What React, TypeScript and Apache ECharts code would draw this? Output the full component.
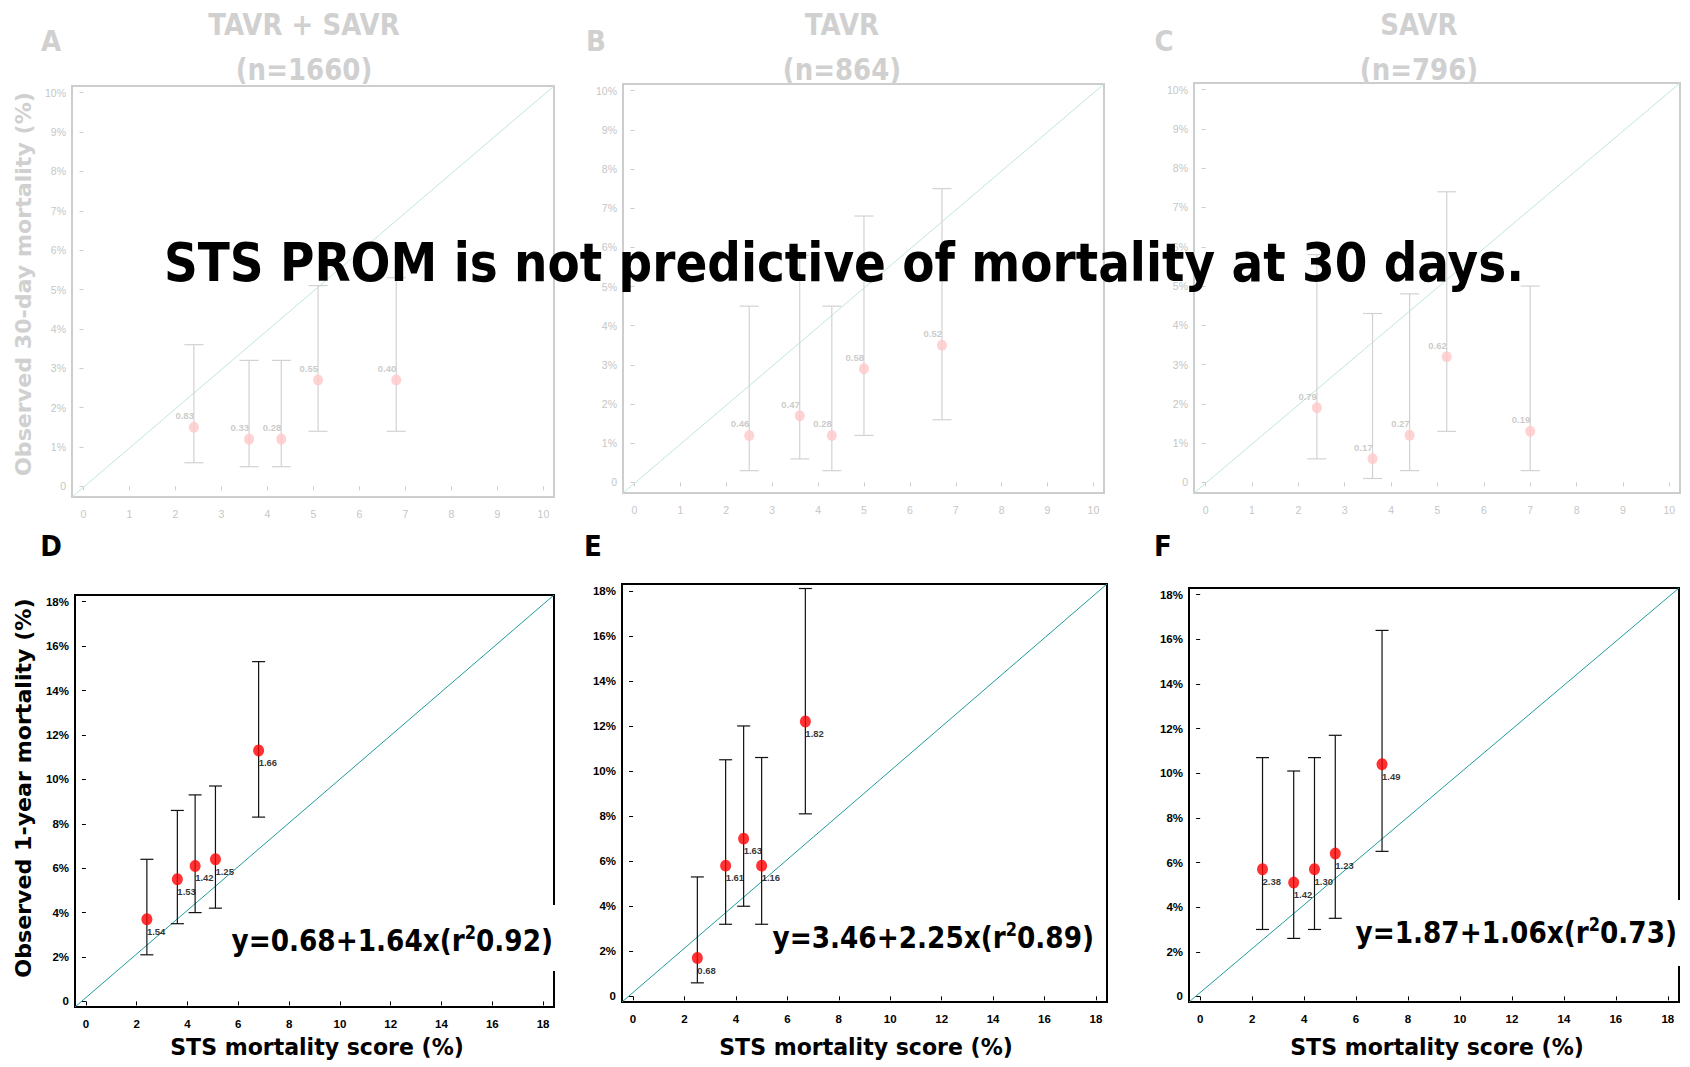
import React, { useEffect, useRef } from "react";
import * as echarts from "echarts";

// ---------- Data ----------
// A: TAVR + SAVR, 30-day
const stsA = [2.4, 3.6, 4.3, 5.1, 6.8];
const obsA = [1.5, 1.2, 1.2, 2.7, 2.7];
const loA = [0.6, 0.5, 0.5, 1.4, 1.4];
const hiA = [3.6, 3.2, 3.2, 5.1, 5.3];
const oeA = ["0.83", "0.33", "0.28", "0.55", "0.40"];
// B: TAVR, 30-day
const stsB = [2.5, 3.6, 4.3, 5.0, 6.7];
const obsB = [1.2, 1.7, 1.2, 2.9, 3.5];
const loB = [0.3, 0.6, 0.3, 1.2, 1.6];
const hiB = [4.5, 5.8, 4.5, 6.8, 7.5];
const oeB = ["0.46", "0.47", "0.28", "0.58", "0.52"];
// C: SAVR, 30-day
const stsC = [2.4, 3.6, 4.4, 5.2, 7.0];
const obsC = [1.9, 0.6, 1.2, 3.2, 1.3];
const loC = [0.6, 0.1, 0.3, 1.3, 0.3];
const hiC = [5.8, 4.3, 4.8, 7.4, 5.0];
const oeC = ["0.79", "0.17", "0.27", "0.62", "0.19"];
// D: TAVR + SAVR, 1-year
const stsD = [2.4, 3.6, 4.3, 5.1, 6.8];
const obsD = [3.7, 5.5, 6.1, 6.4, 11.3];
const loD = [2.1, 3.5, 4.0, 4.2, 8.3];
const hiD = [6.4, 8.6, 9.3, 9.7, 15.3];
const oeD = ["1.54", "1.53", "1.42", "1.25", "1.66"];
// E: TAVR, 1-year
const stsE = [2.5, 3.6, 4.3, 5.0, 6.7];
const obsE = [1.7, 5.8, 7.0, 5.8, 12.2];
const loE = [0.6, 3.2, 4.0, 3.2, 8.1];
const hiE = [5.3, 10.5, 12.0, 10.6, 18.1];
const oeE = ["0.68", "1.61", "1.63", "1.16", "1.82"];
// F: SAVR, 1-year
const stsF = [2.4, 3.6, 4.4, 5.2, 7.0];
const obsF = [5.7, 5.1, 5.7, 6.4, 10.4];
const loF = [3.0, 2.6, 3.0, 3.5, 6.5];
const hiF = [10.7, 10.1, 10.7, 11.7, 16.4];
const oeF = ["2.38", "1.42", "1.30", "1.23", "1.49"];

const topTicks = [0, 1, 2, 3, 4, 5, 6, 7, 8, 9, 10];
const bottomTicks = [0, 2, 4, 6, 8, 10, 12, 14, 16, 18];

const letters = ["A", "B", "C", "D", "E", "F"];
const groupNames = ["TAVR + SAVR", "TAVR", "SAVR"];
const groupNs = ["(n=1660)", "(n=864)", "(n=796)"];
const equations = [
  ["y=0.68+1.64x(r", "2", "0.92)"],
  ["y=3.46+2.25x(r", "2", "0.89)"],
  ["y=1.87+1.06x(r", "2", "0.73)"],
];
const headline = "STS PROM is not predictive of mortality at 30 days.";
const yTitleTop = "Observed 30-day mortality (%)";
const yTitleBottom = "Observed 1-year mortality (%)";
const xTitle = "STS mortality score (%)";

// ---------- Layout ----------
const grids = [
  { left: 72, top: 86, width: 482, height: 411 },
  { left: 623, top: 84, width: 481, height: 409 },
  { left: 1194, top: 83, width: 486, height: 410 },
  { left: 75, top: 595, width: 479, height: 412 },
  { left: 622, top: 584, width: 485, height: 418 },
  { left: 1189, top: 588, width: 490, height: 414 },
];

const panels = [
  { sts: stsA, obs: obsA, lo: loA, hi: hiA, oe: oeA, top: true },
  { sts: stsB, obs: obsB, lo: loB, hi: hiB, oe: oeB, top: true },
  { sts: stsC, obs: obsC, lo: loC, hi: hiC, oe: oeC, top: true },
  { sts: stsD, obs: obsD, lo: loD, hi: hiD, oe: oeD, top: false },
  { sts: stsE, obs: obsE, lo: loE, hi: hiE, oe: oeE, top: false },
  { sts: stsF, obs: obsF, lo: loF, hi: hiF, oe: oeF, top: false },
];

const FADE = {
  text: "#d0d0d0",
  tick: "#c6c6c6",
  border: "#cdcdcd",
  diag: "#bfe5e2",
  point: "#ffc8c8",
  bar: "#d2d2d2",
  label: "#bdbdbd",
};
const SOLID = {
  text: "#000000",
  tick: "#000000",
  border: "#000000",
  diag: "#1f9b9b",
  point: "#ff0000",
  bar: "#111111",
  label: "#000000",
};

const TAHOMA = '"DejaVu Sans"';

function buildOption() {
  const xAxis: any[] = [];
  const yAxis: any[] = [];
  const series: any[] = [];
  const grid: any[] = grids.map((g, i) => ({
    ...g,
    show: true,
    borderWidth: 2,
    borderColor: panels[i].top ? FADE.border : SOLID.border,
    backgroundColor: "transparent",
  }));

  panels.forEach((p, i) => {
    const c = p.top ? FADE : SOLID;
    const ticks = p.top ? topTicks : bottomTicks;
    const xr = p.top ? [-0.25, 10.23] : [-0.43, 18.43];
    const yr = p.top ? [-0.27, 10.17] : [-0.25, 18.3];
    const labelStyle = {
      color: c.tick,
      fontSize: p.top ? 10.5 : 11.5,
      fontWeight: p.top ? "normal" : "bold",
      fontFamily: '"Liberation Sans", Arial, sans-serif',
    };
    xAxis.push({
      gridIndex: i,
      type: "value",
      min: xr[0],
      max: xr[1],
      axisLine: { show: false },
      splitLine: { show: false },
      axisTick: {
        show: true,
        customValues: ticks,
        length: 4,
        lineStyle: { color: c.border, width: 1 },
      },
      axisLabel: {
        customValues: ticks,
        margin: p.top ? 11 : 11,
        formatter: (v: number) => String(v),
        ...labelStyle,
      },
    });
    yAxis.push({
      gridIndex: i,
      type: "value",
      min: yr[0],
      max: yr[1],
      axisLine: { show: false },
      splitLine: { show: false },
      axisTick: {
        show: true,
        customValues: ticks,
        length: 4,
        lineStyle: { color: c.border, width: 1 },
      },
      axisLabel: {
        customValues: ticks,
        margin: 6,
        formatter: (v: number) => (v === 0 ? "0" : v + "%"),
        ...labelStyle,
      },
    });

    // diagonal reference line, corner to corner
    series.push({
      type: "line",
      xAxisIndex: i,
      yAxisIndex: i,
      data: [
        [xr[0], yr[0]],
        [xr[1], yr[1]],
      ],
      showSymbol: false,
      symbol: "none",
      silent: true,
      lineStyle: { color: c.diag, width: 1 },
      z: 1,
    });

    // error bars
    const capHalf = p.top ? 9.5 : 6.5;
    series.push({
      type: "custom",
      xAxisIndex: i,
      yAxisIndex: i,
      silent: true,
      z: 3,
      data: p.sts.map((x, k) => [x, p.lo[k], p.hi[k]]),
      encode: { x: 0, y: [1, 2] },
      renderItem: (params: any, api: any) => {
        const x = api.value(0);
        const a = api.coord([x, api.value(2)]);
        const b = api.coord([x, api.value(1)]);
        const style = { stroke: c.bar, lineWidth: 1.2 };
        return {
          type: "group",
          children: [
            { type: "line", shape: { x1: a[0], y1: a[1], x2: b[0], y2: b[1] }, style },
            { type: "line", shape: { x1: a[0] - capHalf, y1: a[1], x2: a[0] + capHalf, y2: a[1] }, style },
            { type: "line", shape: { x1: b[0] - capHalf, y1: b[1], x2: b[0] + capHalf, y2: b[1] }, style },
          ],
        };
      },
    });

    // points with O/E labels
    series.push({
      type: "scatter",
      xAxisIndex: i,
      yAxisIndex: i,
      z: 5,
      symbol: "circle",
      symbolSize: p.top ? [10, 11] : [11, 12],
      itemStyle: { color: c.point },
      data: p.sts.map((x, k) => [x, p.obs[k]]),
      label: {
        show: true,
        formatter: (prm: any) => p.oe[prm.dataIndex],
        position: p.top ? "top" : "bottom",
        align: p.top ? "right" : "left",
        distance: 1,
        color: c.label,
        fontSize: 9.5,
        fontWeight: "bold",
        fontFamily: '"Liberation Sans", Arial, sans-serif',
      },
    });
  });

  const graphic: any[] = [];
  const txt = (
    text: string,
    x: number,
    y: number,
    size: number,
    fill: string,
    extra: any = {}
  ) => ({
    type: "text",
    x,
    y,
    z: extra.z ?? 20,
    scaleX: extra.scaleX ?? 1,
    rotation: extra.rotation ?? 0,
    style: {
      text,
      font: `bold ${size}px ${TAHOMA}`,
      fill,
      align: extra.align ?? "center",
      verticalAlign: "middle",
    },
  });

  // panel letters
  const letterPos = [
    [51, 41],
    [596, 41],
    [1164, 41],
    [51, 546],
    [593, 546],
    [1163, 546],
  ];
  letters.forEach((l, i) => {
    graphic.push(
      txt(l, letterPos[i][0], letterPos[i][1], 29, i < 3 ? FADE.text : SOLID.text, { scaleX: 0.9 })
    );
  });

  // group titles
  const titleX = [304, 842, 1419];
  groupNames.forEach((g, i) => {
    graphic.push(txt(g, titleX[i], 24, 31, FADE.text, { scaleX: 0.84 }));
    graphic.push(txt(groupNs[i], titleX[i], 69, 31, FADE.text, { scaleX: 0.84 }));
  });

  // y axis titles
  graphic.push(txt(yTitleTop, 24, 284, 21.5, FADE.text, { rotation: Math.PI / 2, scaleX: 1.03 }));
  graphic.push(txt(yTitleBottom, 24, 788, 21.5, SOLID.text, { rotation: Math.PI / 2, scaleX: 1.03 }));

  // x axis titles
  const xTitleX = [317, 866, 1437];
  xTitleX.forEach((x) => graphic.push(txt(xTitle, x, 1047, 22.5, SOLID.text, { scaleX: 0.98 })));

  // equations
  const eqRight = [553, 1094, 1677];
  const eqY = [940, 937, 932];
  const eqRects = [
    { x: 226, y: 905, w: 336 },
    null,
    { x: 1350, y: 900, w: 338 },
  ];
  equations.forEach((eq, i) => {
    const r = eqRects[i];
    if (r) {
      graphic.push({
        type: "rect",
        z: 30,
        shape: { x: r.x, y: r.y, width: r.w, height: 66 },
        style: { fill: "#ffffff" },
      });
    }
    graphic.push({
      type: "text",
      x: eqRight[i],
      y: eqY[i],
      z: 31,
      scaleX: 0.85,
      style: {
        text: `{a|${eq[0]}}{s|${eq[1]}}{a|${eq[2]}}`,
        align: "right",
        verticalAlign: "middle",
        rich: {
          a: {
            fontSize: 31,
            fontWeight: "bold",
            fontFamily: TAHOMA,
            fill: "#000",
            lineHeight: 38,
          },
          s: {
            fontSize: 19,
            fontWeight: "bold",
            fontFamily: TAHOMA,
            fill: "#000",
            lineHeight: 38,
            verticalAlign: "top",
            padding: [2, 0, 0, 0],
          },
        },
      },
    });
  });

  // overlay headline
  graphic.push(txt(headline, 844, 262, 54, "#000000", { scaleX: 0.87, z: 100 }));

  return {
    animation: false,
    backgroundColor: "#ffffff",
    grid,
    xAxis,
    yAxis,
    series,
    graphic: { elements: graphic },
  };
}

export default function App() {
  const ref = useRef<HTMLDivElement>(null);
  useEffect(() => {
    if (!ref.current) return;
    const chart = echarts.init(ref.current, undefined, { renderer: "svg" });
    chart.setOption(buildOption() as any);
    return () => chart.dispose();
  }, []);
  return (
    <div
      ref={ref}
      style={{ position: "absolute", left: 0, top: 0, width: 1690, height: 1067, background: "#fff" }}
    />
  );
}
